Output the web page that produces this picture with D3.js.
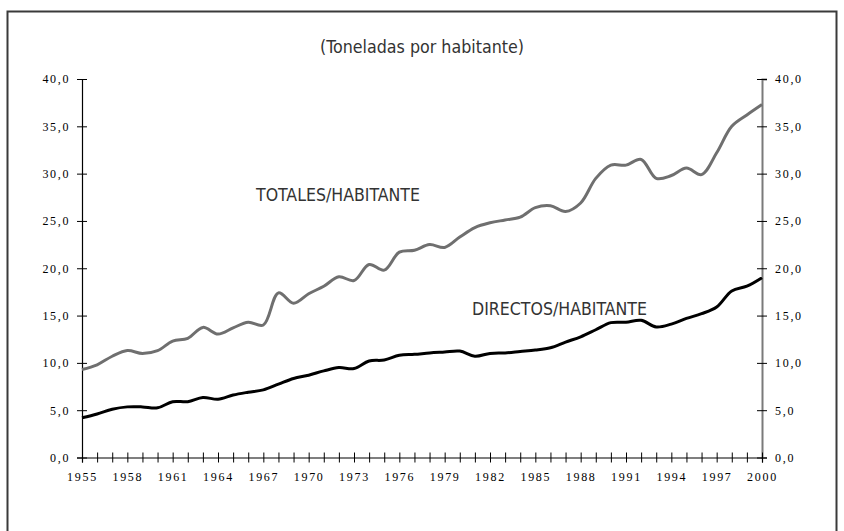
<!DOCTYPE html>
<html>
<head>
<meta charset="utf-8">
<script src="https://cdn.jsdelivr.net/npm/d3@7"></script>
<style>
  body { margin: 0; background: #fff; }
  .tick text { font-family: "Liberation Serif", "Times New Roman", serif; font-size: 12px; letter-spacing: 1.7px; fill: #000; }
  .lbl { font-family: "Liberation Sans Narrow", "DejaVu Sans Condensed", "Open Sans", sans-serif; fill: #333; }
</style>
</head>
<body>
<script>
// Data (tonnes per inhabitant)
var years = d3.range(1955, 2001);
var totales = [9.3, 9.8, 10.7, 11.3, 11.0, 11.3, 12.3, 12.6, 13.75, 13.05,
               13.7, 14.3, 14.0, 17.4, 16.3, 17.3, 18.1, 19.1, 18.7, 20.4,
               19.8, 21.7, 21.9, 22.5, 22.2, 23.3, 24.3, 24.8, 25.1, 25.4,
               26.4, 26.6, 26.0, 26.9, 29.5, 30.9, 30.9, 31.5, 29.5, 29.8,
               30.6, 29.9, 32.2, 35.0, 36.2, 37.3];
var directos = [4.2, 4.6, 5.1, 5.35, 5.35, 5.25, 5.9, 5.9, 6.35, 6.15,
                6.6, 6.9, 7.15, 7.75, 8.35, 8.7, 9.15, 9.5, 9.4, 10.2,
                10.3, 10.8, 10.9, 11.05, 11.15, 11.25, 10.7, 11.0, 11.05, 11.2,
                11.35, 11.6, 12.2, 12.75, 13.5, 14.25, 14.3, 14.5, 13.8, 14.1,
                14.7, 15.2, 15.9, 17.6, 18.1, 19.0];
var yTicks = [0, 5, 10, 15, 20, 25, 30, 35, 40];
var xLabelYears = d3.range(1955, 2001, 3);

var W = 844, H = 531;
var margin = {top: 79, right: 82, bottom: 74, left: 82},
    width = 762 - margin.left,
    height = 457.5 - margin.top;

var svg = d3.select("body").append("svg")
    .attr("width", W)
    .attr("height", H);

// outer frame
svg.append("rect")
    .attr("x", 7.5).attr("y", 11.5)
    .attr("width", 829).attr("height", 540)
    .attr("fill", "none")
    .attr("stroke", "#3a3a3a")
    .attr("stroke-width", 2);

var g = svg.append("g")
    .attr("transform", "translate(" + margin.left + "," + margin.top + ")");

var x = d3.scaleLinear().domain([1955, 2000]).range([0, width]);
var y = d3.scaleLinear().domain([0, 40]).range([height, 0]);

var loc = d3.formatLocale({decimal: ",", thousands: ".", grouping: [3], currency: ["", ""]});
var fmt = loc.format(".1f");

// left axis
var yl = g.append("g")
    .call(d3.axisLeft(y).tickValues(yTicks).tickFormat(fmt).tickSize(5).tickPadding(8));
yl.select(".domain").attr("stroke", "#000").attr("stroke-width", 1.2);
yl.selectAll(".tick line").attr("x1", 5).attr("x2", -5).attr("stroke", "#000");
yl.selectAll(".tick text").attr("dx", "0.1em");

// right axis (gray)
var yr = g.append("g")
    .attr("transform", "translate(" + width + ",0)")
    .call(d3.axisRight(y).tickValues(yTicks).tickFormat(fmt).tickSize(5).tickPadding(8));
yr.select(".domain").attr("stroke", "#7a7a7a").attr("stroke-width", 2);
yr.selectAll(".tick line").attr("x1", -5).attr("x2", 5).attr("stroke", "#000");

// bottom axis, tick every year, label every 3 years
var xa = g.append("g")
    .attr("transform", "translate(0," + height + ")")
    .call(d3.axisBottom(x).tickValues(years)
        .tickFormat(d => xLabelYears.indexOf(d) >= 0 ? d : "")
        .tickSize(5).tickPadding(10));
xa.select(".domain").attr("stroke", "#000").attr("stroke-width", 1.2);
xa.selectAll(".tick line").attr("y1", -5).attr("y2", 5).attr("stroke", "#000");

var line = d3.line()
    .x((d, i) => x(years[i]))
    .y(d => y(d))
    .curve(d3.curveCatmullRom.alpha(0.5));

g.append("path")
    .datum(totales)
    .attr("fill", "none")
    .attr("stroke", "#6f6f6f")
    .attr("stroke-width", 3)
    .attr("stroke-linejoin", "round")
    .attr("d", line);

g.append("path")
    .datum(directos)
    .attr("fill", "none")
    .attr("stroke", "#000")
    .attr("stroke-width", 3)
    .attr("stroke-linejoin", "round")
    .attr("d", line);

// title and series labels
svg.append("text")
    .attr("class", "lbl")
    .attr("x", 320).attr("y", 53)
    .attr("font-size", 17)
    .attr("textLength", 204).attr("lengthAdjust", "spacingAndGlyphs")
    .text("(Toneladas por habitante)");

svg.append("text")
    .attr("class", "lbl")
    .attr("x", 256).attr("y", 201)
    .attr("font-size", 18)
    .attr("textLength", 164).attr("lengthAdjust", "spacingAndGlyphs")
    .text("TOTALES/HABITANTE");

svg.append("text")
    .attr("class", "lbl")
    .attr("x", 472).attr("y", 315)
    .attr("font-size", 18)
    .attr("textLength", 175).attr("lengthAdjust", "spacingAndGlyphs")
    .text("DIRECTOS/HABITANTE");
</script>
</body>
</html>
